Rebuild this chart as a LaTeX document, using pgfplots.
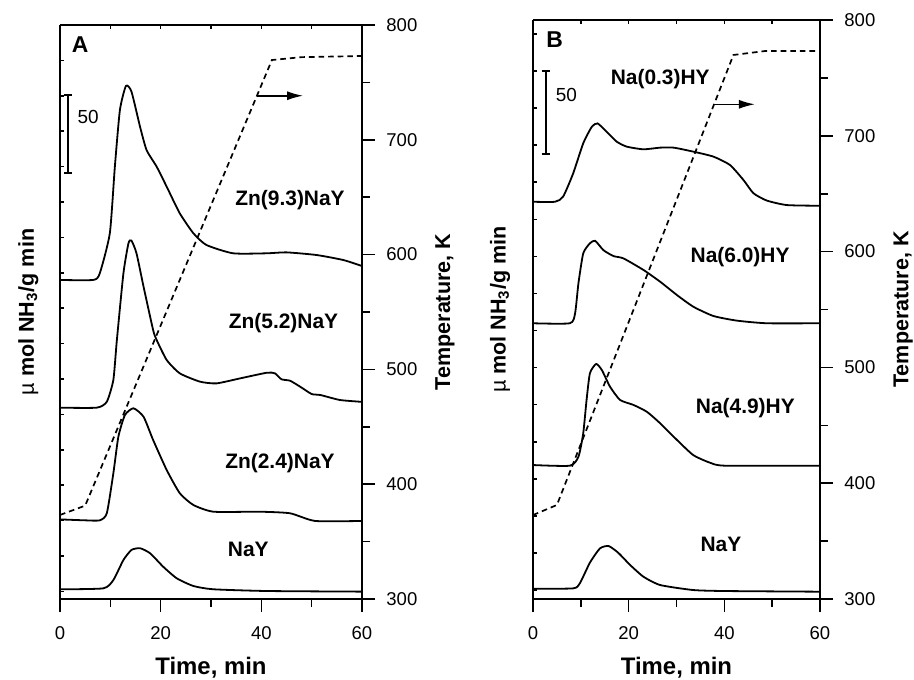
\documentclass[border=0pt]{standalone}
\usepackage{fontspec}
\setmainfont{Liberation Sans}
\usepackage{pgfplots}
\pgfplotsset{compat=1.18}
\usetikzlibrary{arrows.meta}

\tikzset{curvelab/.style={font=\bfseries\fontsize{10.5}{12}\selectfont, anchor=center},
  tpd/.style={black, line width=0.9bp, smooth, tension=0.35}}
\pgfplotsset{
  base/.style={scale only axis, xmin=0, xmax=60, clip=false,
    axis line style={line width=0.9bp},
    every tick/.style={line width=0.8bp, black},
    /pgf/number format/assume math mode=true,
    tick label style={font=\fontsize{9.3}{11}\selectfont},
    label style={font=\bfseries\fontsize{10.8}{13}\selectfont},
  },
  leftax/.style={base, axis y line*=left, axis x line*=top,
    tick align=inside, major tick length=2bp,
    xtick={10,20,30,40,50}, xticklabels={}, yticklabels={}, ymin=0,
  },
  rightax/.style={base, axis y line*=right, axis x line*=bottom,
    tick align=outside, major tick length=6.5bp, minor tick length=4bp,
    xtick={0,20,40,60}, minor xtick={10,30,50},
    ymin=300, ymax=800, ytick={300,400,...,800}, minor ytick={350,450,...,750},
    xticklabel style={yshift=-3.8bp}, yticklabel style={xshift=2.2bp},
    xlabel={Time, min}, ylabel={Temperature, K},
    xlabel style={font=\bfseries\fontsize{12}{14}\selectfont},
  },
}

\begin{document}
\begin{tikzpicture}
\path[use as bounding box] (0,0) rectangle (457bp,340bp);

% ================= Panel A =================
\begin{axis}[leftax, at={(30bp,40.5bp)}, anchor=south west,
  width=151bp, height=287bp, ymax=366.3,
  ytick={4.9,27.5,50.0,72.6,95.2,117.8,140.4,163.0,185.6,208.2,230.8,253.3,275.9,298.5,321.1,343.7},
  ylabel={{\fontseries{m}\selectfont µ} mol NH\textsubscript{3}/g min},
  ylabel style={at={(axis description cs:-0.105,0.5)}, anchor=center},
]
\addplot[tpd] coordinates {(0,203.6)(6.6,203.6)(7.9,207.8)(9.9,233.4)(10.9,275.9)(11.9,312)(13.1,327.4)(14.2,323.8)(15.9,301.4)(17.2,286.5)(19.2,275.9)(21.2,263.1)(23.8,246.1)(26.5,233.4)(29.1,225.9)(34.4,220.6)(41.1,220.6)(45,221.2)(51,219.5)(56.3,216.3)(60,212.5)};
\addplot[tpd] coordinates {(0,122.1)(7.3,122.1)(9.3,125.9)(10.6,139.8)(11.3,165.3)(12.6,207.8)(13.6,227)(14.2,228.7)(15.2,220.6)(16.6,199.3)(18.5,171.7)(19.2,165.3)(21.2,152.5)(23.8,144)(27.8,138.7)(31.1,137.6)(35.8,140.8)(41.1,144.4)(42.7,144)(44.0,140.2)(45.7,139.3)(47.7,135.5)(50.0,130.8)(51.7,130.2)(55.6,127)(60,125.8)};
\addplot[tpd] coordinates {(0,50.8)(5,50.2)(7.9,50.2)(9.3,54.7)(10.6,80.2)(11.6,103.6)(12.9,117.4)(14.6,121.7)(16.6,116.3)(18.5,101.5)(21.2,82.3)(23.8,67.5)(26.5,60)(30.5,55.7)(39.7,55.7)(45.7,54.7)(50.7,49.8)(60,49.8)};
\addplot[tpd] coordinates {(0,6.2)(8.6,6.8)(10.6,12.1)(12.6,24.9)(14.2,31.3)(15.9,32.4)(17.9,29.2)(20.5,20.6)(23.2,13.2)(26.5,8.3)(30.5,6.2)(41.1,5.1)(60,4.7)};
% scale bar
\draw[line width=0.9bp] (axis cs:1.65,271.7) -- (axis cs:1.65,321.6);
\draw[line width=0.9bp] ([xshift=-2bp]axis cs:1.65,271.7) -- ([xshift=2bp]axis cs:1.65,271.7);
\draw[line width=0.9bp] ([xshift=-2bp]axis cs:1.65,321.6) -- ([xshift=2bp]axis cs:1.65,321.6);
\node[font=\fontsize{9.5}{11}\selectfont, anchor=center] at (axis cs:5.6,307.8) {50};
\end{axis}

\begin{axis}[rightax, at={(30bp,40.5bp)}, anchor=south west,
  width=151bp, height=287bp,
  xlabel style={at={(axis description cs:0.5,-0.12)}, anchor=center},
  ylabel style={at={(axis description cs:1.275,0.5)}, anchor=center},
]
\addplot[black, line width=0.85bp, dash pattern=on 2.8bp off 2bp] coordinates {(0,373.2)(5.0,381.3)(42.1,769.5)(48,772)(60,773)};
\draw[line width=0.8bp, -{Latex[length=8bp,width=4.5bp]}] (axis cs:39.1,738.4) -- (axis cs:48.3,738.4);
\node[font=\bfseries\fontsize{11.5}{13}\selectfont] at (axis cs:4.0,782.6) {A};
\node[curvelab] at (axis cs:45.7,647.6) {Zn(9.3)NaY};
\node[curvelab] at (axis cs:44.4,540) {Zn(5.2)NaY};
\node[curvelab] at (axis cs:43.7,418.2) {Zn(2.4)NaY};
\node[curvelab] at (axis cs:37.4,343.3) {NaY};
\end{axis}

% ================= Panel B =================
\begin{axis}[leftax, at={(266.5bp,40.5bp)}, anchor=south west,
  width=143.5bp, height=289.5bp, ymax=348.8,
  ytick={5.4,27.7,50.1,72.4,94.7,117.1,139.4,161.7,184.1,206.4,228.7,251.1,273.4,295.7,318.1,340.4},
  ylabel={{\fontseries{m}\selectfont µ} mol NH\textsubscript{3}/g min},
  ylabel style={at={(axis description cs:-0.115,0.5)}, anchor=center},
]
\addplot[tpd] coordinates {(0,239.3)(4.6,239.3)(6.3,242.4)(8.4,256.4)(10.5,274.5)(12.3,284.5)(13.5,286.5)(15.4,281.5)(17.5,275.5)(19.6,272.5)(23.1,270.9)(26.6,271.9)(29.4,271.9)(33.5,269.5)(37.7,266.5)(41.2,261.4)(44.0,252.4)(46.1,244.4)(48.9,240)(53.1,237.3)(60,236.9)};
\addplot[tpd] coordinates {(0,166.1)(7.7,166.1)(8.8,172.1)(9.5,190.2)(10.5,208.2)(11.9,214.3)(13.0,215.8)(14.7,210.2)(16.8,206.6)(18.9,205.2)(23.1,198.2)(26.6,191.1)(30.1,183.1)(33.5,176.1)(37.7,170.5)(42.6,167.7)(48.9,166.1)(60,166.1)};
\addplot[tpd] coordinates {(0,80.7)(7.7,80.3)(9.5,85.7)(10.5,99.8)(11.2,119.9)(11.9,136)(13.2,141.6)(14.4,137.9)(16.1,127.9)(18.2,119.9)(21.0,116.9)(23.8,112.8)(26.6,105.8)(30.1,95.8)(33.5,86.7)(37.0,82.1)(40.2,80.3)(60,80.3)};
\addplot[tpd] coordinates {(0,6.2)(8.4,6.4)(9.8,9.5)(11.9,21.9)(14.0,30.5)(15.8,31.9)(17.8,27.9)(20.3,20.5)(23.1,13.4)(26.6,8.4)(33.5,5.4)(40.2,4.8)(60,4.4)};
% scale bar
\draw[line width=0.9bp] (axis cs:2.65,267.9) -- (axis cs:2.65,318);
\draw[line width=0.9bp] ([xshift=-2bp]axis cs:2.65,267.9) -- ([xshift=2bp]axis cs:2.65,267.9);
\draw[line width=0.9bp] ([xshift=-2bp]axis cs:2.65,318) -- ([xshift=2bp]axis cs:2.65,318);
\node[font=\fontsize{9.5}{11}\selectfont, anchor=center] at (axis cs:7.0,303.6) {50};
\end{axis}

\begin{axis}[rightax, at={(266.5bp,40.5bp)}, anchor=south west,
  width=143.5bp, height=289.5bp,
  xlabel style={at={(axis description cs:0.5,-0.119)}, anchor=center},
  ylabel style={at={(axis description cs:1.29,0.5)}, anchor=center},
]
\addplot[black, line width=0.85bp, dash pattern=on 2.8bp off 2bp] coordinates {(0,372.5)(5.0,381.2)(41.9,769.8)(48.5,773.2)(60,773.2)};
\draw[line width=0.8bp, -{Latex[length=8bp,width=4.5bp]}] (axis cs:38.1,727.2) -- (axis cs:46.4,727.2);
\node[font=\bfseries\fontsize{11.5}{13}\selectfont] at (axis cs:4.5,783.3) {B};
\node[curvelab] at (axis cs:26.6,748.8) {Na(0.3)HY};
\node[curvelab] at (axis cs:43.3,595.6) {Na(6.0)HY};
\node[curvelab] at (axis cs:44.4,464.7) {Na(4.9)HY};
\node[curvelab] at (axis cs:39.3,347.5) {NaY};
\end{axis}
\end{tikzpicture}
\end{document}
